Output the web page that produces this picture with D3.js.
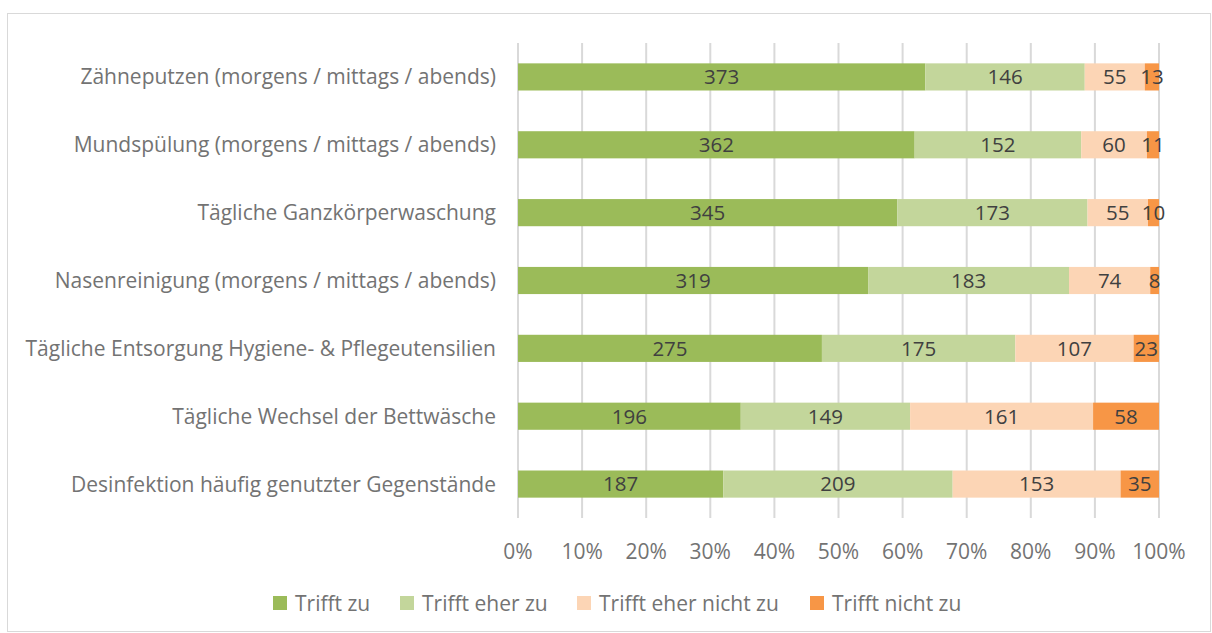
<!DOCTYPE html>
<html><head><meta charset="utf-8">
<script src="https://cdn.jsdelivr.net/npm/d3@7"></script>
<style>body{margin:0;background:#fff}svg{display:block}text{font-family:"Open Sans",sans-serif}</style>
</head><body><svg id="c" width="1212" height="633"></svg>
<script>
const categories = ["Zähneputzen (morgens / mittags / abends)","Mundspülung (morgens / mittags / abends)","Tägliche Ganzkörperwaschung","Nasenreinigung (morgens / mittags / abends)","Tägliche Entsorgung Hygiene- & Pflegeutensilien","Tägliche Wechsel der Bettwäsche","Desinfektion häufig genutzter Gegenstände"];
const seriesNames = ["Trifft zu","Trifft eher zu","Trifft eher nicht zu","Trifft nicht zu"];
const triffZu = [373,362,345,319,275,196,187];
const eherZu = [146,152,173,183,175,149,209];
const eherNicht = [55,60,55,74,107,161,153];
const nichtZu = [13,11,10,8,23,58,35];
const colors = ["#9BBB59","#C3D69B","#FCD5B5","#F79646"];
const tickValues = [0,0.1,0.2,0.3,0.4,0.5,0.6,0.7,0.8,0.9,1];

const svg = d3.select("#c");
svg.append("rect").attr("x",7.5).attr("y",13.5).attr("width",1203).attr("height",618).attr("fill","#fff").attr("stroke","#d9d9d9");
const x = d3.scaleLinear().domain([0,1]).range([518,1159]);
const y = d3.scaleBand().domain(categories).range([43,518]).paddingInner(0.6).paddingOuter(0.3);
const grid = svg.append("g");
grid.selectAll("line").data(tickValues).join("line")
  .attr("x1",d=>x(d)).attr("x2",d=>x(d)).attr("y1",43).attr("y2",518)
  .attr("stroke","#d9d9d9").attr("stroke-width",2);
const seriesArr=[triffZu,eherZu,eherNicht,nichtZu];
const rows = categories.map((c,i)=>{const vals=seriesArr.map(s=>s[i]);const tot=d3.sum(vals);let acc=0;return vals.map((v,k)=>{const r={c,k,v,x0:acc/tot,x1:(acc+v)/tot};acc+=v;return r;});}).flat();
const g=svg.append("g");
g.selectAll("rect").data(rows).join("rect")
 .attr("x",d=>x(d.x0)).attr("width",d=>x(d.x1)-x(d.x0)).attr("y",d=>y(d.c)).attr("height",y.bandwidth()).attr("fill",d=>colors[d.k]);
g.selectAll("text").data(rows).join("text")
 .attr("x",d=>(x(d.x0)+x(d.x1))/2).attr("y",d=>y(d.c)+y.bandwidth()/2).attr("dy","0.36em")
 .attr("text-anchor","middle").attr("font-size",20.5).attr("fill","#404040").text(d=>d.v);
svg.append("g").selectAll("text").data(categories).join("text")
 .attr("x",496).attr("y",d=>y(d)+y.bandwidth()/2).attr("dy","0.36em").attr("text-anchor","end")
 .attr("font-size",21).attr("fill","#737373").text(d=>d);
svg.append("g").selectAll("text").data(tickValues).join("text")
 .attr("x",d=>x(d)).attr("y",551).attr("dy","0.36em").attr("text-anchor","middle")
 .attr("font-size",21).attr("fill","#737373").text(d=>d3.format(".0%")(d));
const legX=[273,400,577,810];
const lg=svg.append("g").selectAll("g").data(seriesNames).join("g").attr("transform",(d,i)=>`translate(${legX[i]},603)`);
lg.append("rect").attr("x",0).attr("y",-7).attr("width",14).attr("height",14).attr("fill",(d,i)=>colors[i]);
lg.append("text").attr("x",22).attr("dy","0.36em").attr("font-size",21).attr("fill","#737373").text(d=>d);
</script></body></html>
